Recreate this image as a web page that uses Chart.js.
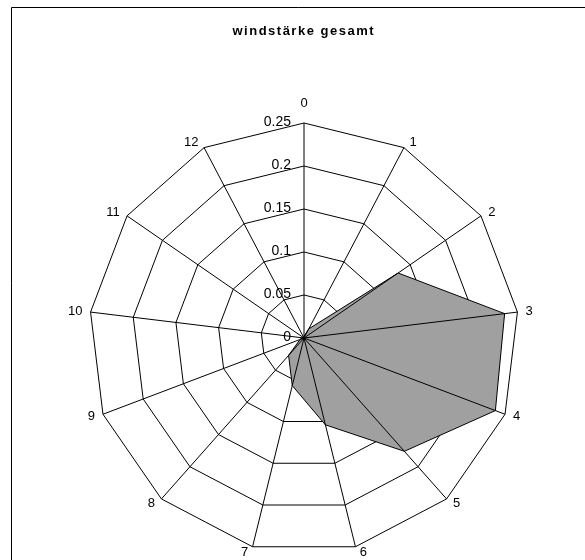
<!DOCTYPE html>
<html>
<head>
<meta charset="utf-8">
<script src="https://cdn.jsdelivr.net/npm/chart.js@4/dist/chart.umd.min.js"></script>
<style>
  html, body { margin: 0; padding: 0; background: #fff; overflow: hidden; }
  canvas { display: block; }
</style>
</head>
<body>
<canvas id="c" width="585" height="560"></canvas>
<script>
// Wind force share (Beaufort 0..12), all observations
const chartTitle = 'windstärke gesamt';
const windForce = ['0', '1', '2', '3', '4', '5', '6', '7', '8', '9', '10', '11', '12'];
const share = [0.002, 0.012, 0.133, 0.235, 0.238, 0.176, 0.104, 0.057, 0.027, 0.005, 0.002, 0.001, 0.001];
const tickValues = [0, 0.05, 0.1, 0.15, 0.2, 0.25];
const tickLabels = ['0', '0.05', '0.1', '0.15', '0.2', '0.25'];

const FONT = '"Liberation Sans", Arial, Helvetica, sans-serif';

// Frame, title, spokes over the filled area, value labels and category labels
const decorations = {
  id: 'decorations',
  beforeDraw(chart) {
    const ctx = chart.ctx;
    ctx.save();
    ctx.fillStyle = '#fff';
    ctx.fillRect(0, 0, chart.width, chart.height);
    ctx.restore();
  },
  afterDatasetsDraw(chart) {
    const ctx = chart.ctx;
    const r = chart.scales.r;
    const meta = chart.getDatasetMeta(0);
    ctx.save();
    ctx.strokeStyle = '#000';
    ctx.lineWidth = 1;
    ctx.beginPath();
    meta.data.forEach(p => {
      ctx.moveTo(r.xCenter, r.yCenter);
      ctx.lineTo(p.x, p.y);
    });
    ctx.stroke();
    ctx.restore();
  },
  afterDraw(chart) {
    const ctx = chart.ctx;
    const r = chart.scales.r;
    ctx.save();

    // outer frame (top and left edges)
    ctx.strokeStyle = '#000';
    ctx.lineWidth = 1;
    ctx.beginPath();
    ctx.moveTo(11.5, chart.height);
    ctx.lineTo(11.5, 7.5);
    ctx.lineTo(chart.width, 7.5);
    ctx.stroke();

    // title
    ctx.fillStyle = '#000';
    ctx.font = 'bold 13px ' + FONT;
    ctx.textAlign = 'center';
    ctx.textBaseline = 'alphabetic';
    if ('letterSpacing' in ctx) ctx.letterSpacing = '1.5px';
    ctx.fillText(chartTitle, 303.75, 35);
    if ('letterSpacing' in ctx) ctx.letterSpacing = '0px';

    // value labels along the first spoke
    ctx.font = '14px ' + FONT;
    ctx.textAlign = 'right';
    ctx.textBaseline = 'middle';
    r.ticks.forEach(t => {
      const d = r.getDistanceFromCenterForValue(t.value);
      ctx.fillText(t.label, r.xCenter - 13, r.yCenter - d - 1);
    });

    // category labels
    ctx.font = '13px ' + FONT;
    ctx.textAlign = 'center';
    chart.data.labels.forEach((lab, i) => {
      const p = r.getPointPosition(i, r.drawingArea);
      const a = r.getIndexAngle(i);
      const s = Math.sin(a), c = Math.cos(a);
      const w = ctx.measureText(lab).width;
      let x, y;
      if (Math.abs(s) < 0.01) {
        x = p.x;
        y = p.y - 19.5 * Math.sign(c);
      } else {
        const gap = 3.2 + 5 * Math.abs(s);
        x = p.x + Math.sign(s) * (gap + w / 2);
        y = p.y - c * 5.5;
      }
      ctx.fillText(lab, x, y);
    });
    ctx.restore();
  }
};

new Chart(document.getElementById('c'), {
  type: 'radar',
  data: {
    labels: windForce,
    datasets: [{
      data: share,
      backgroundColor: '#a0a0a0',
      borderColor: '#000',
      borderWidth: 1,
      pointRadius: 0,
      pointHoverRadius: 0,
      fill: true,
      tension: 0
    }]
  },
  options: {
    responsive: false,
    devicePixelRatio: 1,
    animation: false,
    locale: 'en-US',
    layout: { padding: { left: 89, right: 66, top: 123, bottom: 7 } },
    plugins: {
      legend: { display: false },
      title: { display: false },
      tooltip: { enabled: false }
    },
    scales: {
      r: {
        min: 0,
        max: 0.25,
        afterBuildTicks: s => { s.ticks = tickValues.map(value => ({ value })); },
        ticks: { display: false, callback: (v, i) => tickLabels[i] },
        grid: { color: '#000', lineWidth: 1, circular: false },
        angleLines: { color: '#000', lineWidth: 1 },
        pointLabels: { display: false }
      }
    }
  },
  plugins: [decorations]
});
</script>
</body>
</html>
